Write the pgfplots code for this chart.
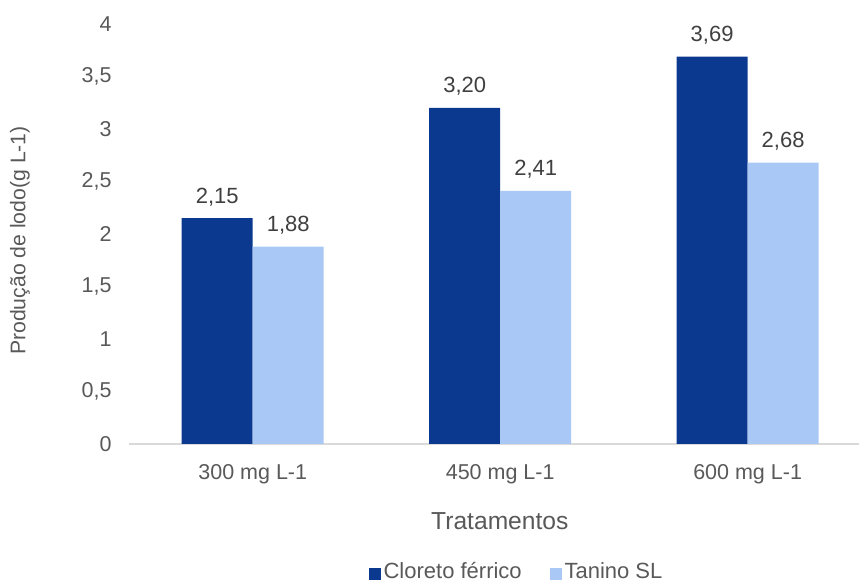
\documentclass[border=0pt]{standalone}
\usepackage{pgfplots}
\pgfplotsset{compat=1.18}
\usepackage{fontspec}
\setmainfont{Liberation Sans}
\definecolor{darkbar}{HTML}{0B398F}
\definecolor{lightbar}{HTML}{AAC8F6}
\definecolor{ticktext}{HTML}{595959}
\definecolor{labeltext}{HTML}{404040}
\definecolor{axisgrey}{HTML}{D9D9D9}

\begin{document}
\begin{tikzpicture}[x=1pt,y=1pt]
\useasboundingbox (0,0) rectangle (429.5,291.5);
\begin{axis}[
  at={(64.5pt,69.5pt)}, anchor=south west,
  scale only axis, width=365pt, height=210pt,
  ybar=0pt, bar width=35.5pt,
  xmin=-0.5, xmax=2.45, ymin=0, ymax=4,
  enlargelimits=false, clip=false,
  xtick={0,1,2},
  xticklabels={300 mg L-1,450 mg L-1,600 mg L-1},
  ytick={0,0.5,1,1.5,2,2.5,3,3.5,4},
  separate axis lines,
  axis x line*=bottom, axis y line*=left,
  x axis line style={axisgrey, line width=0.75pt},
  y axis line style={draw=none},
  major tick length=0pt,
  xtick style={draw=none}, ytick style={draw=none},
  /pgf/number format/.cd, use comma, assume math mode=true, /pgfplots/.cd,
  yticklabel style={font=\fontsize{10.75}{12}\selectfont, text=ticktext,
    inner sep=0pt, anchor=east, xshift=-8.5pt},
  xticklabel style={font=\fontsize{10.75}{12}\selectfont, text=ticktext,
    inner sep=0pt, anchor=north, yshift=-10pt},
  xlabel={Tratamentos},
  xlabel style={font=\fontsize{12.3}{14}\selectfont, text=ticktext,
    inner sep=0pt, at={(axis description cs:0.508,-0.1619)}, anchor=north},
  ylabel={Produção de lodo(g L-1)},
  ylabel style={font=\fontsize{10.6}{12.5}\selectfont, text=ticktext,
    inner sep=0pt, at={(axis description cs:-0.1493,0.4845)}, anchor=center},
  nodes near coords={\pgfmathprintnumber[fixed,fixed zerofill,precision=2,use comma]{\pgfplotspointmeta}},
  nodes near coords style={font=\fontsize{11}{13}\selectfont, text=labeltext,
    inner sep=0pt, anchor=base, yshift=7.5pt},
  legend columns=2,
  legend style={at={(axis description cs:0.5315,-0.305)}, anchor=center,
    draw=none, fill=none, font=\fontsize{11}{13}\selectfont, text=ticktext,
    nodes={inner sep=1.2pt},
    /tikz/every even column/.append style={column sep=13pt}},
]
\addplot[fill=darkbar, draw=none,
  legend image code/.code={\fill[darkbar] (0pt,-4pt) rectangle (6pt,2pt);}]
  coordinates {(0,2.15) (1,3.20) (2,3.69)};
\addplot[fill=lightbar, draw=none,
  legend image code/.code={\fill[lightbar] (0pt,-4pt) rectangle (6pt,2pt);}]
  coordinates {(0,1.88) (1,2.41) (2,2.68)};
\legend{Cloreto férrico, Tanino SL}
\end{axis}
\end{tikzpicture}
\end{document}
